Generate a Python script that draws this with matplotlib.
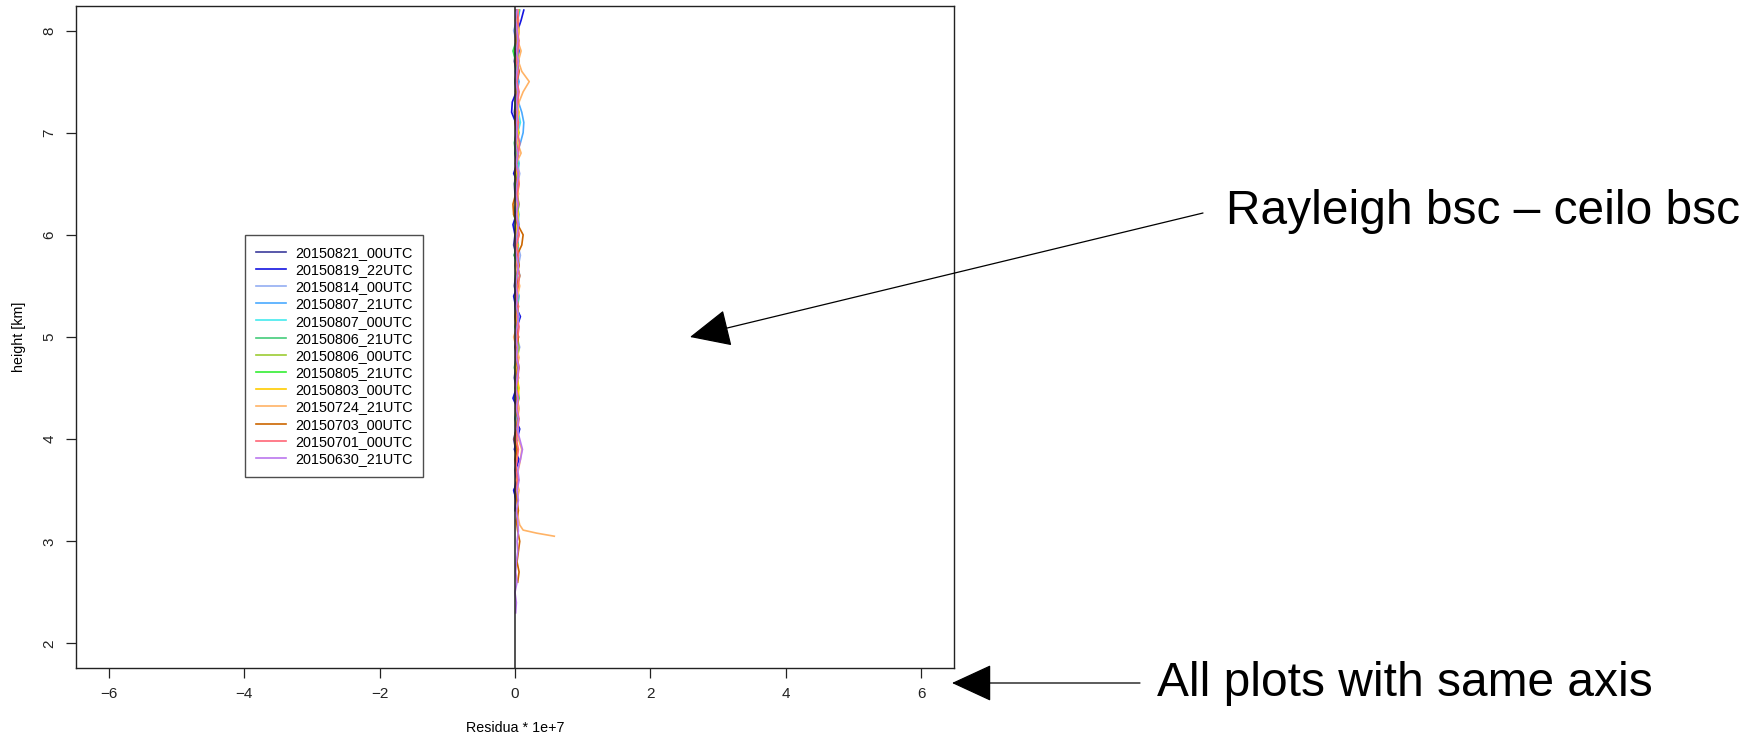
import numpy as np
import matplotlib
matplotlib.use("Agg")
import matplotlib.pyplot as plt

plt.rcParams["font.family"] = ["Liberation Sans", "DejaVu Sans"]

# ==================================================
# data: residual profiles (Rayleigh bsc - ceilo bsc), in units of 1e-7
# ==================================================

height_km = [
    2.3, 2.4, 2.5, 2.6, 2.7, 2.8, 2.9, 3.0, 3.1, 3.2,
    3.3, 3.4, 3.5, 3.6, 3.7, 3.8, 3.9, 4.0, 4.1, 4.2,
    4.3, 4.4, 4.5, 4.6, 4.7, 4.8, 4.9, 5.0, 5.1, 5.2,
    5.3, 5.4, 5.5, 5.6, 5.7, 5.8, 5.9, 6.0, 6.1, 6.2,
    6.3, 6.4, 6.5, 6.6, 6.7, 6.8, 6.9, 7.0, 7.1, 7.2,
    7.3, 7.4, 7.5, 7.6, 7.7, 7.8, 7.9, 8.0, 8.1, 8.2,
]

labels = [
    "20150821_00UTC", "20150819_22UTC", "20150814_00UTC", "20150807_21UTC",
    "20150807_00UTC", "20150806_21UTC", "20150806_00UTC", "20150805_21UTC",
    "20150803_00UTC", "20150724_21UTC", "20150703_00UTC", "20150701_00UTC",
    "20150630_21UTC",
]

N = None

r_20150821_00 = [
    N, N, N, N, N, N, N, N, N, N,
    0.00, 0.01, -0.01, 0.02, 0.00, 0.03, 0.01, -0.02, 0.02, 0.01,
    0.03, 0.00, 0.02, -0.01, 0.01, 0.03, 0.00, 0.02, 0.04, 0.01,
    0.00, 0.02, -0.01, 0.01, 0.03, 0.02, -0.02, 0.00, 0.02, 0.01,
    0.03, 0.00, -0.01, 0.02, 0.01, 0.03, 0.00, 0.02, 0.01, -0.01,
    0.01, 0.03, 0.00, 0.02, -0.01, 0.01, 0.03, 0.02, 0.04, 0.02,
]
r_20150819_22 = [
    N, N, N, N, N, N, N, N, N, N,
    N, 0.02, -0.02, 0.05, 0.01, 0.06, -0.01, 0.03, 0.07, 0.00,
    0.04, -0.03, 0.02, 0.05, 0.01, 0.04, 0.02, 0.05, 0.03, 0.08,
    0.01, -0.02, 0.04, 0.02, 0.05, -0.01, 0.03, 0.00, -0.03, 0.02,
    0.04, 0.01, 0.05, -0.02, 0.03, 0.00, 0.02, 0.05, 0.01, -0.05,
    -0.04, 0.02, 0.05, 0.01, 0.03, 0.06, 0.02, 0.04, 0.09, 0.13,
]
r_20150814_00 = [
    N, N, N, N, N, N, N, N, N, N,
    N, N, N, N, N, N, N, 0.03, 0.05, 0.02,
    0.06, 0.03, 0.01, 0.05, 0.04, 0.02, 0.07, 0.03, 0.05, 0.02,
    0.04, 0.06, 0.01, 0.03, 0.05, 0.08, 0.04, 0.02, 0.05, 0.03,
    0.06, 0.02, 0.04, 0.07, 0.03, 0.05, 0.01, 0.04, 0.06, 0.03,
    0.05, 0.02, 0.04, 0.06, 0.03, 0.05, 0.02, -0.02, 0.03, 0.05,
]
r_20150807_21 = [
    N, N, N, N, N, N, N, N, N, N,
    N, N, N, N, N, N, N, N, N, 0.03,
    0.05, 0.02, 0.04, 0.01, 0.06, 0.03, 0.05, 0.02, 0.04, 0.06,
    0.03, 0.05, 0.02, 0.07, 0.04, 0.02, 0.05, 0.03, 0.06, 0.04,
    0.02, 0.05, 0.03, 0.04, 0.06, 0.03, 0.08, 0.12, 0.13, 0.10,
    0.05, 0.03, 0.06, 0.02, 0.04, 0.05, 0.03, 0.06, 0.04, 0.07,
]
r_20150807_00 = [
    N, N, N, N, N, N, N, N, N, N,
    N, N, N, N, N, N, N, N, N, N,
    N, N, 0.02, 0.04, 0.01, 0.03, 0.05, 0.02, 0.04, 0.01,
    0.03, 0.06, 0.02, 0.04, 0.01, 0.05, 0.03, 0.02, 0.04, 0.06,
    0.03, 0.01, 0.04, 0.02, 0.05, 0.03, 0.06, 0.04, 0.08, 0.05,
    0.03, 0.05, 0.02, 0.04, 0.06, 0.03, 0.05, 0.02, 0.04, 0.06,
]
r_20150806_21 = [
    N, N, N, N, N, N, N, N, N, N,
    N, N, N, N, N, N, N, 0.01, 0.03, 0.00,
    0.02, 0.04, 0.01, 0.03, -0.01, 0.02, 0.04, 0.01, 0.03, 0.00,
    0.02, 0.05, 0.01, 0.03, 0.00, 0.02, 0.04, 0.01, 0.03, -0.02,
    0.01, 0.03, 0.00, 0.02, 0.04, 0.01, -0.01, 0.02, 0.03, 0.01,
    0.04, 0.02, 0.00, 0.03, 0.01, -0.03, 0.02, 0.04, 0.01, 0.03,
]
r_20150806_00 = [
    N, N, N, N, N, N, N, N, N, N,
    N, N, N, N, N, N, N, N, N, N,
    0.04, 0.02, 0.05, 0.03, 0.01, 0.04, 0.06, 0.02, 0.04, 0.03,
    0.05, 0.02, 0.04, 0.07, 0.03, 0.01, 0.04, 0.02, 0.05, 0.03,
    0.06, 0.03, 0.01, 0.04, 0.02, 0.05, 0.03, 0.06, 0.02, 0.04,
    0.03, 0.05, 0.02, 0.04, 0.06, 0.03, 0.05, 0.02, 0.04, 0.03,
]
r_20150805_21 = [
    N, N, N, N, N, N, N, N, N, N,
    N, N, N, N, N, N, N, N, 0.03, 0.05,
    0.02, 0.06, 0.04, 0.01, 0.03, 0.05, 0.02, 0.04, 0.00, 0.03,
    0.05, 0.02, 0.04, 0.01, 0.03, -0.01, 0.02, 0.04, 0.01, 0.03,
    0.05, 0.02, 0.00, 0.03, 0.01, 0.04, 0.02, 0.05, 0.01, 0.03,
    0.00, 0.04, 0.02, 0.05, 0.01, -0.02, 0.03, 0.05, 0.02, 0.06,
]
r_20150803_00 = [
    N, N, N, N, N, N, N, N, N, N,
    N, N, N, N, N, 0.02, 0.04, 0.01, 0.03, 0.05,
    0.02, 0.04, 0.06, 0.03, 0.01, 0.04, 0.02, 0.05, 0.03, 0.01,
    0.04, 0.02, 0.05, 0.03, 0.06, 0.02, 0.04, 0.01, 0.03, 0.05,
    0.02, 0.04, 0.06, 0.03, 0.01, 0.04, 0.02, 0.05, 0.03, 0.06,
    0.02, 0.04, 0.01, 0.03, 0.05, 0.02, 0.04, 0.06, 0.03, 0.05,
]
r_20150724_21 = [
    N, N, N, N, N, N, N, N, N, N,
    0.04, 0.03, 0.06, 0.02, 0.05, 0.08, 0.10, 0.05, 0.02, 0.04,
    0.06, 0.03, 0.01, 0.05, 0.03, 0.06, 0.02, -0.02, 0.03, 0.05,
    0.02, 0.04, 0.07, 0.03, 0.01, 0.05, 0.02, 0.06, 0.03, 0.04,
    0.01, 0.05, 0.03, 0.06, 0.02, 0.09, 0.04, 0.02, 0.05, 0.03,
    0.06, 0.12, 0.21, 0.10, 0.05, 0.09, 0.04, 0.06, 0.03, 0.05,
]
# lowest part of 20150724_21UTC, with the jump near 3 km
spike_height = [3.05, 3.08, 3.11, 3.16, 3.22]
spike_resid = [0.58, 0.32, 0.12, 0.07, 0.05]

r_20150703_00 = [
    N, N, N, 0.04, 0.06, 0.03, 0.05, 0.07, 0.04, 0.02,
    0.05, 0.03, 0.01, 0.04, 0.02, 0.00, 0.03, -0.01, 0.02, 0.04,
    0.01, 0.03, 0.00, 0.02, 0.04, 0.01, 0.03, 0.05, 0.02, 0.00,
    0.03, 0.01, 0.04, 0.02, 0.06, 0.03, 0.10, 0.12, 0.04, -0.02,
    -0.03, 0.01, 0.03, 0.00, 0.02, 0.04, 0.01, 0.03, 0.00, 0.02,
    0.04, 0.01, 0.03, 0.06, 0.02, 0.04, 0.01, 0.03, 0.05, 0.02,
]
r_20150701_00 = [
    N, N, N, N, N, N, N, N, N, N,
    N, N, 0.02, 0.04, 0.01, 0.03, 0.05, 0.02, 0.04, 0.06,
    0.03, 0.05, 0.02, 0.04, 0.06, 0.03, 0.01, 0.04, 0.06, 0.03,
    0.05, 0.02, 0.04, 0.07, 0.03, 0.05, 0.02, 0.06, 0.04, 0.02,
    0.05, 0.03, 0.06, 0.04, 0.02, 0.05, 0.07, 0.03, 0.05, 0.02,
    0.04, 0.06, 0.03, 0.05, 0.02, 0.04, 0.06, 0.03, 0.05, 0.04,
]
r_20150630_21 = [
    0.01, 0.02, 0.00, 0.03, 0.01, 0.02, 0.04, 0.03, 0.05, 0.04,
    0.02, 0.05, 0.03, 0.06, 0.04, 0.08, 0.11, 0.07, 0.03, 0.05,
    0.02, 0.04, 0.01, 0.03, 0.05, 0.02, 0.04, 0.01, 0.03, 0.05,
    0.02, 0.04, 0.01, 0.03, 0.05, 0.02, 0.00, 0.03, 0.05, 0.02,
    0.04, 0.01, 0.03, 0.05, 0.02, 0.04, 0.01, 0.03, 0.02, 0.04,
    0.02, 0.04, 0.01, 0.03, 0.05, 0.02, 0.04, 0.03, 0.01, 0.03,
]

colors = [
    "#3c3c9c", "#1414e0", "#94aef2", "#4aaaff", "#44eaee", "#44cc7a",
    "#9ccc33", "#33ee33", "#ffcc00", "#ffb366", "#cc6600", "#ff6677",
    "#bb77ee",
]

series = [
    r_20150821_00, r_20150819_22, r_20150814_00, r_20150807_21,
    r_20150807_00, r_20150806_21, r_20150806_00, r_20150805_21,
    r_20150803_00, r_20150724_21, r_20150703_00, r_20150701_00,
    r_20150630_21,
]

# ==================================================
# plot
# ==================================================

W, H = 1753, 737
fig = plt.figure(figsize=(W / 100, H / 100), dpi=100)
ax = fig.add_axes([76 / W, 1 - 668 / H, (954 - 76) / W, (668 - 6) / H])

h = np.array(height_km)
for name, vals, col in zip(labels, series, colors):
    x = np.array(vals, dtype=float)
    ok = ~np.isnan(x)
    xs, ys = x[ok], h[ok]
    if name == "20150724_21UTC":
        xs = np.concatenate([spike_resid, xs])
        ys = np.concatenate([spike_height, ys])
    ax.plot(xs, ys, color=col, lw=1.2, label=name)

ax.axvline(0, color="#222222", lw=1.1, zorder=5)

ax.set_xlim(-6.48, 6.48)
ax.set_ylim(1.76, 8.24)
ax.set_xticks([-6, -4, -2, 0, 2, 4, 6])
ax.set_yticks([2, 3, 4, 5, 6, 7, 8])
ax.tick_params(length=7, width=0.9, pad=7, labelsize=11, colors="#222222")
for t in ax.get_yticklabels():
    t.set_rotation(90)
    t.set_va("center")
for s in ax.spines.values():
    s.set_color("#222222")
    s.set_linewidth(1.0)

ax.set_xlabel("Residua * 1e+7", fontsize=10.3, labelpad=14)
ax.set_ylabel("height [km]", fontsize=10.3, labelpad=12)

leg = ax.legend(
    loc="upper left",
    bbox_to_anchor=(245 / W, 1 - 235 / H),
    bbox_transform=fig.transFigure,
    borderaxespad=0,
    fontsize=10.4,
    frameon=True,
    fancybox=False,
    edgecolor="#222222",
    handlelength=2.1,
    handletextpad=0.6,
    labelspacing=0.22,
    borderpad=0.75,
)
leg.get_frame().set_linewidth(1.0)

# ==================================================
# annotations outside the plot
# ==================================================

fig.text(1226 / W, 1 - 212 / H, "Rayleigh bsc \u2013 ceilo bsc",
         fontsize=34.5, va="center", ha="left")
fig.text(1157 / W, 1 - 684 / H, "All plots with same axis",
         fontsize=34.5, va="center", ha="left")

arrow = dict(arrowstyle="-|>,head_length=1.3,head_width=0.6",
             color="black", lw=0.9, mutation_scale=20, shrinkA=0, shrinkB=0)
fig.add_artist(matplotlib.patches.FancyArrowPatch(
    (1203 / W, 1 - 213 / H), (690 / W, 1 - 337 / H),
    transform=fig.transFigure, **arrow))
fig.add_artist(matplotlib.patches.FancyArrowPatch(
    (1140 / W, 1 - 683 / H), (952 / W, 1 - 683 / H),
    transform=fig.transFigure, **arrow))

fig.savefig("out.png", dpi=100)
